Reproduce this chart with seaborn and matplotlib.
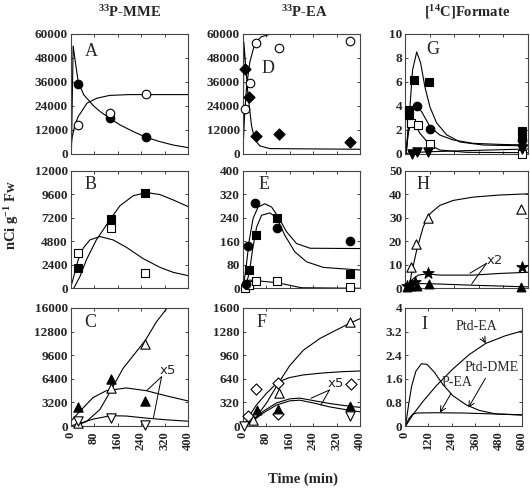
import matplotlib
matplotlib.use("Agg")
import matplotlib.pyplot as plt
import seaborn as sns

# ---------------- panel A  (33P-MME, top)
a_t = [26, 133, 256]
a_closed = [35000, 17900, 8400]
a_open = [14500, 20700, 29900]
a_fit_closed_t = [3, 9, 17, 26, 45, 79, 101, 133, 169, 214, 256, 304, 349, 400]
a_fit_closed = [0, 54000, 45500, 36300, 29600, 24000, 21200, 17900, 14500, 11200, 8400, 6200, 4500, 3200]
a_fit_open_t = [0, 5, 15, 27, 34, 56, 90, 133, 200, 400]
a_fit_open = [0, 8000, 14500, 19000, 20400, 25400, 27900, 29300, 29700, 29700]

# ---------------- panel B
b_t = [27, 137, 255]
b_closed = [2100, 7100, 9700]
b_open = [3640, 6150, 1560]
b_fit_closed_t = [11, 32, 54, 88, 137, 168, 213, 258, 304, 349, 400]
b_fit_closed = [0, 1190, 2890, 4930, 7100, 8400, 9420, 9760, 9550, 9010, 8330]
b_fit_open_t = [0, 11, 26, 43, 66, 100, 145, 190, 247, 304, 349, 400]
b_fit_open = [0, 1190, 2890, 4080, 4930, 5270, 4930, 4180, 3030, 2140, 1630, 1290]

# ---------------- panel C
c_t = [25, 137, 255]
c_closed_tri = [2600, 6420, 3350]
c_open_up = [350, 5100, 11070]
c_open_down = [700, 1070, 140]
c_fit_up_t = [15, 54, 100, 137, 179, 255, 292, 330, 400]
c_fit_up = [0, 600, 2230, 4790, 7810, 11630, 14090, 16050, 20500]
c_fit_hump_t = [0, 32, 77, 122, 190, 258, 326, 400]
c_fit_hump = [600, 2000, 3860, 4790, 5160, 4790, 4090, 3400]
c_fit_low_t = [0, 32, 77, 137, 190, 258, 326, 400]
c_fit_low = [0, 370, 930, 1400, 1350, 1070, 840, 650]

# ---------------- panel D  (33P-EA, top)
d_t = [10, 23, 47, 124, 366]
d_closed = [42600, 28600, 9100, 10000, 5900]
d_open_t = [10, 25, 47, 123, 365]
d_open = [22300, 35500, 55600, 53100, 56600]
d_fit_open_t = [1, 7, 14, 25, 42, 64, 93, 400]
d_fit_open = [0, 18900, 34100, 46000, 55300, 58600, 59800, 60000]
d_fit_closed_t = [2, 4.5, 12, 19, 31, 42, 59, 93, 400]
d_fit_closed = [0, 56000, 42000, 29000, 13900, 7100, 4060, 2700, 2370]

# ---------------- panel E
e_circ_t = [11, 20, 44, 118, 366]
e_circ = [15, 145, 291, 204, 160]
e_sq_t = [23, 45, 119, 366]
e_sq = [62, 181, 240, 47]
e_osq_t = [9, 23, 45, 119, 366]
e_osq = [2, 10, 26, 26, 6]
e_fit_circ_t = [2, 11, 23, 36, 53, 76, 99, 122, 150, 184, 230, 400]
e_fit_circ = [0, 62, 163, 237, 276, 287, 276, 242, 192, 152, 136, 135]
e_fit_sq_t = [8, 23, 34, 48, 65, 93, 116, 144, 178, 218, 275, 400]
e_fit_sq = [0, 51, 130, 208, 248, 256, 240, 180, 124, 90, 71, 62]
e_fit_osq_t = [2, 23, 119, 200, 400]
e_fit_osq = [0, 28, 19, 2, 0]

# ---------------- panel F
f_up_t = [36, 125, 366]
f_up = [83, 451, 1410]
f_down_t = [5, 366]
f_down = [0, 138]
f_tri_t = [50, 122, 366]
f_tri = [218, 230, 267]
f_dia_t = [19, 45, 122, 122, 369]
f_dia = [129, 506, 580, 161, 566]
f_fit_up_t = [8, 48, 82, 122, 161, 207, 264, 320, 366, 400]
f_fit_up = [0, 129, 313, 580, 820, 1027, 1188, 1303, 1395, 1455]
f_fit_dia_t = [8, 25, 47, 81, 121, 160, 206, 273, 341, 400]
f_fit_dia = [27, 148, 283, 440, 598, 656, 692, 719, 737, 746]
f_fit_hump_t = [5, 36, 70, 116, 161, 195, 241, 298, 366, 400]
f_fit_hump_hi = [0, 83, 198, 313, 368, 378, 345, 304, 267, 253]
f_fit_hump_lo = [0, 69, 175, 285, 341, 350, 313, 258, 212, 193]

# ---------------- panel G  ([14C]Formate, top)
g_sq_t = [21, 21, 44, 117, 572, 572]
g_sq = [3.7, 3.25, 6.2, 6.0, 1.9, 1.5]
g_circ_t = [57, 122, 572]
g_circ = [4.0, 2.1, 1.2]
g_osq_t = [28, 65, 122, 572]
g_osq = [2.6, 2.4, 0.83, 0.0]
g_tri_t = [32, 57, 113, 572]
g_tri = [0.0, 0.15, 0.2, 0.4]
g_fit_sq_t = [5, 24, 37, 57, 76, 97, 122, 154, 203, 268, 381, 600]
g_fit_sq = [0, 3.9, 7.0, 8.5, 7.6, 5.6, 3.9, 2.6, 1.6, 1.0, 0.75, 0.67]
g_fit_circ_t = [5, 16, 32, 54, 81, 122, 170, 235, 332, 462, 600]
g_fit_circ = [0, 2.0, 3.67, 4.08, 3.53, 2.28, 1.58, 1.17, 0.89, 0.8, 0.75]
g_fit_osq_t = [5, 16, 28, 49, 73, 122, 170, 300, 600]
g_fit_osq = [0, 1.72, 2.55, 2.42, 1.72, 0.75, 0.33, 0.14, 0.11]
g_fit_tri_t = [0, 24, 122, 300, 600]
g_fit_tri = [0, 0.11, 0.19, 0.28, 0.42]

# ---------------- panel H
h_up_t = [29, 54, 114, 568]
h_up = [8.9, 18.6, 30.0, 33.8]
h_star_t = [10, 24, 50, 114, 572]
h_star = [1.0, 1.5, 2.5, 6.3, 8.9]
h_tri_t = [10, 30, 57, 118, 568]
h_tri = [0.5, 0.8, 1.0, 1.8, 0.7]
h_fit_up_t = [19, 32, 57, 89, 122, 170, 235, 332, 462, 600]
h_fit_up = [0, 6.3, 16.2, 26.1, 31.7, 35.2, 37.3, 38.7, 39.6, 40.1]
h_fit_star_t = [8, 32, 65, 105, 170, 332, 462, 600]
h_fit_star = [0, 3.5, 5.6, 6.1, 5.6, 5.6, 6.3, 6.8]
h_fit_tri_t = [8, 32, 73, 170, 332, 600]
h_fit_tri = [0, 1.4, 2.0, 1.8, 1.3, 0.6]

# ---------------- panel I (model curves only)
i_ea_t = [3, 42, 93, 160, 245, 329, 414, 515, 600]
i_ea = [0, 0.40, 0.84, 1.36, 1.93, 2.42, 2.80, 3.06, 3.22]
i_dme_t = [3, 17, 34, 56, 84, 113, 152, 194, 245, 313, 380, 465, 600]
i_dme = [0, 0.66, 1.35, 1.86, 2.11, 2.09, 1.81, 1.41, 1.03, 0.72, 0.53, 0.41, 0.37]
i_pea_t = [3, 20, 40, 60, 150, 300, 450, 600]
i_pea = [0, 0.25, 0.40, 0.44, 0.45, 0.44, 0.41, 0.38]

sns.set_style("ticks")
plt.rcParams["font.family"] = ["Liberation Serif", "DejaVu Serif"]
plt.rcParams["mathtext.fontset"] = "custom"
plt.rcParams["mathtext.rm"] = "Liberation Serif"
plt.rcParams["mathtext.bf"] = "Liberation Serif:bold"
plt.rcParams["mathtext.default"] = "bf"

W, H = 530, 490
fig = plt.figure(figsize=(W / 100, H / 100), dpi=100)

cols = [(70.5, 188), (242.5, 360), (405, 528)]
rows = [(34, 154), (170.5, 288.3), (308, 426)]


def make_ax(r, c, right=None):
    x0, x1 = cols[c]
    if right:
        x1 = right
    y0, y1 = rows[r]
    return fig.add_axes([x0 / W, 1 - y1 / H, (x1 - x0) / W, (y1 - y0) / H])


def curve(ax, t, y, lw=0.8):
    sns.lineplot(x=t, y=y, ax=ax, color="black", lw=lw, sort=False,
                 estimator=None, zorder=2)


def pts(ax, t, y, marker, filled=True, s=38):
    sns.scatterplot(x=t, y=y, ax=ax, marker=marker, s=s,
                    color="black" if filled else "white",
                    edgecolor="black", linewidth=0.8, zorder=3, clip_on=False)


def style(ax, ymax, ystep, xmax, xstep, letter, lx, ly, bottom=False, ylabels=None):
    ax.set_xlim(0, xmax)
    ax.set_ylim(0, ymax)
    yt = [ystep * k for k in range(int(round(ymax / ystep)) + 1)]
    ax.set_yticks(yt)
    ax.set_yticklabels(ylabels if ylabels else [f"{v:g}" for v in yt],
                       fontsize=9.5, fontweight="bold")
    xt = [xstep * k for k in range(int(round(xmax / xstep)) + 1)]
    ax.set_xticks(xt)
    if bottom:
        ax.set_xticklabels([str(v) for v in xt], rotation=90,
                           fontsize=9, fontweight="bold")
    else:
        ax.set_xticklabels([])
    ax.tick_params(direction="in", top=True, right=True, length=2.5,
                   width=0.6, pad=2)
    ax.tick_params(axis="x", pad=4)
    for sp in ax.spines.values():
        sp.set_linewidth(0.8)
        sp.set_color("#444444")
    ax.set_xlabel("")
    ax.set_ylabel("")
    ax.text(lx, ly, letter, transform=ax.transAxes, fontsize=13,
            ha="center", va="center")


def link(ax, start, ends):
    for e in ends:
        ax.annotate("", xy=e, xytext=start,
                    arrowprops=dict(arrowstyle="-", lw=0.7, color="black",
                                    shrinkA=0, shrinkB=0))


# A
ax = make_ax(0, 0)
curve(ax, a_fit_closed_t, a_fit_closed)
curve(ax, a_fit_open_t, a_fit_open)
pts(ax, a_t, a_closed, "o")
pts(ax, a_t, a_open, "o", False)
style(ax, 60000, 12000, 400, 80, "A", 0.18, 0.85)

# B
ax = make_ax(1, 0)
curve(ax, b_fit_closed_t, b_fit_closed)
curve(ax, b_fit_open_t, b_fit_open)
pts(ax, b_t, b_closed, "s")
pts(ax, b_t, b_open, "s", False)
style(ax, 12000, 2400, 400, 80, "B", 0.17, 0.88)

# C
ax = make_ax(2, 0)
curve(ax, c_fit_up_t, c_fit_up)
curve(ax, c_fit_hump_t, c_fit_hump)
curve(ax, c_fit_low_t, c_fit_low)
pts(ax, c_t, c_closed_tri, "^", s=45)
pts(ax, c_t, c_open_up, "^", False, s=45)
pts(ax, c_t, c_open_down, "v", False, s=45)
ax.text(332, 7590, "x5", family="DejaVu Sans", fontsize=9.5, ha="center", va="center")
link(ax, (310, 6680), [(259, 4790), (282, 1040)])
style(ax, 16000, 3200, 400, 80, "C", 0.17, 0.88, bottom=True)

# D
ax = make_ax(0, 1)
curve(ax, d_fit_open_t, d_fit_open)
curve(ax, d_fit_closed_t, d_fit_closed)
pts(ax, d_t, d_closed, "D", s=32)
pts(ax, d_open_t, d_open, "o", False)
style(ax, 60000, 12000, 400, 80, "D", 0.22, 0.71)

# E
ax = make_ax(1, 1)
curve(ax, e_fit_circ_t, e_fit_circ)
curve(ax, e_fit_sq_t, e_fit_sq)
curve(ax, e_fit_osq_t, e_fit_osq)
pts(ax, e_osq_t, e_osq, "s", False)
pts(ax, e_circ_t, e_circ, "o")
pts(ax, e_sq_t, e_sq, "s")
style(ax, 400, 80, 400, 80, "E", 0.18, 0.88)

# F
ax = make_ax(2, 1)
curve(ax, f_fit_up_t, f_fit_up)
curve(ax, f_fit_dia_t, f_fit_dia)
curve(ax, f_fit_hump_t, f_fit_hump_hi)
curve(ax, f_fit_hump_t, f_fit_hump_lo)
pts(ax, f_dia_t, f_dia, "D", False, s=32)
pts(ax, f_up_t, f_up, "^", False, s=45)
pts(ax, f_down_t, f_down, "v", False, s=45)
pts(ax, f_tri_t, f_tri, "^", s=40)
ax.text(318, 583, "x5", family="DejaVu Sans", fontsize=9.5, ha="center", va="center")
link(ax, (296, 488), [(233, 376), (267, 285)])
style(ax, 1600, 320, 400, 80, "F", 0.165, 0.875, bottom=True)

# G
ax = make_ax(0, 2)
curve(ax, g_fit_sq_t, g_fit_sq)
curve(ax, g_fit_circ_t, g_fit_circ)
curve(ax, g_fit_osq_t, g_fit_osq)
curve(ax, g_fit_tri_t, g_fit_tri)
pts(ax, g_osq_t, g_osq, "s", False)
pts(ax, g_tri_t, g_tri, "v", s=45)
pts(ax, g_circ_t, g_circ, "o")
pts(ax, g_sq_t, g_sq, "s")
style(ax, 10, 2, 600, 120, "G", 0.23, 0.867)

# H
ax = make_ax(1, 2)
curve(ax, h_fit_up_t, h_fit_up)
curve(ax, h_fit_star_t, h_fit_star)
curve(ax, h_fit_tri_t, h_fit_tri)
pts(ax, h_up_t, h_up, "^", False, s=45)
pts(ax, h_tri_t, h_tri, "^", s=40)
pts(ax, h_star_t, h_star, "*", s=70)
ax.text(439, 11.6, "x2", family="DejaVu Sans", fontsize=9.5, ha="center", va="center")
link(ax, (398, 10.6), [(317, 6.4), (325, 1.8)])
style(ax, 50, 10, 600, 120, "H", 0.15, 0.88)

# I
ax = make_ax(2, 2, right=522)
curve(ax, i_ea_t, i_ea)
curve(ax, i_dme_t, i_dme)
curve(ax, i_pea_t, i_pea)
arr = dict(arrowstyle="->", lw=0.7, color="black", shrinkA=1, shrinkB=0)
ax.annotate("Ptd-EA", xy=(414, 2.80), xytext=(366, 3.37), fontsize=10,
            ha="center", va="center", arrowprops=arr)
ax.annotate("Ptd-DME", xy=(325, 0.62), xytext=(445, 1.99), fontsize=10,
            ha="center", va="center", arrowprops=arr)
ax.annotate("P-EA", xy=(179, 0.45), xytext=(268, 1.47), fontsize=10,
            ha="center", va="center", arrowprops=arr)
style(ax, 4, 0.8, 600, 120, "I", 0.17, 0.856, bottom=True,
      ylabels=["0", "0.8", "1.6", "2.4", "3.2", "4"])

# column titles and axis labels
fig.text(130 / W, 1 - 12 / H, r"$^{33}$P-MME", fontsize=10.5, fontweight="bold",
         ha="center", va="center")
fig.text(304 / W, 1 - 12 / H, r"$^{33}$P-EA", fontsize=10.5, fontweight="bold",
         ha="center", va="center")
fig.text(467 / W, 1 - 12 / H, r"[$^{14}$C]Formate", fontsize=10.5, fontweight="bold",
         ha="center", va="center")
fig.text(12 / W, 1 - 215 / H, r"nCi g$^{-1}$ Fw", fontsize=10.5, fontweight="bold",
         rotation=90, ha="center", va="center")
fig.text(303 / W, 1 - 479 / H, "Time (min)", fontsize=10.5, fontweight="bold",
         ha="center", va="center")

fig.savefig("out.png", dpi=100)
plt.close(fig)
